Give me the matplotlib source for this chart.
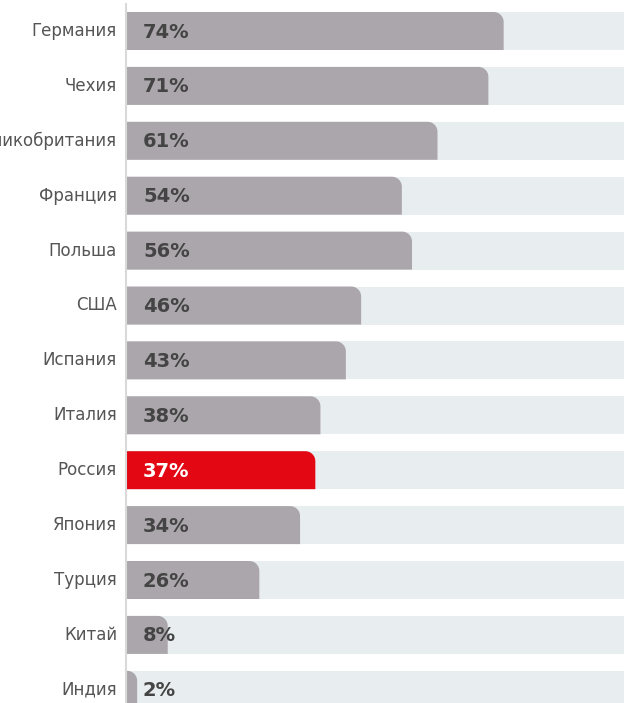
import numpy as np
import matplotlib.pyplot as plt
from matplotlib.path import Path
from matplotlib.patches import PathPatch

# === Data ===
countries = ["Германия", "Чехия", "Великобритания", "Франция", "Польша", "США",
             "Испания", "Италия", "Россия", "Япония", "Турция", "Китай", "Индия"]
values = [74, 71, 61, 54, 56, 46, 43, 38, 37, 34, 26, 8, 2]
highlight = "Россия"

# === Style ===
gray_bar = "#aba6ab"
red_bar = "#e30613"
track = "#e8edf0"
label_col = "#555555"
value_col = "#444444"

W, H = 624, 703
x0_px = 127          # left edge of bars
px_per_pct = 5.09
row_px = 54.9
first_center = 31
bar_h = 38 / row_px


def rounded_bar(ax, y, w, h, rx, ry, color):
    # bar with only the top-right corner rounded (y axis inverted -> top is y - h/2)
    rx = min(rx, w)
    top, bot = y - h / 2, y + h / 2
    t = np.linspace(0, np.pi / 2, 12)
    arc_x = (w - rx) + rx * np.sin(t)
    arc_y = (top + ry) - ry * np.cos(t)
    xs = [0, 0] + list(arc_x) + [w, 0]
    ys = [bot, top] + list(arc_y) + [bot, bot]
    verts = list(zip(xs, ys))
    codes = [Path.MOVETO] + [Path.LINETO] * (len(verts) - 2) + [Path.CLOSEPOLY]
    ax.add_patch(PathPatch(Path(verts, codes), facecolor=color, edgecolor="none", zorder=2))


fig = plt.figure(figsize=(W / 100, H / 100), dpi=100)
ax = fig.add_axes([x0_px / W, 0, 1 - x0_px / W, 1])
ax.set_xlim(0, (W - x0_px) / px_per_pct)
ax.set_ylim((H - first_center) / row_px, -first_center / row_px)
ax.axis("off")

rx = 10 / px_per_pct
ry = 10 / row_px
for i, (name, v) in enumerate(zip(countries, values)):
    ax.barh(i, 100, height=bar_h, color=track, zorder=1)
    col = red_bar if name == highlight else gray_bar
    rounded_bar(ax, i, v, bar_h, rx, ry, col)
    txt_col = "white" if name == highlight else value_col
    ax.text(16 / px_per_pct, i + 0.02, f"{v}%", ha="left", va="center", fontsize=14,
            fontweight="bold", color=txt_col, zorder=3)
    ax.text(-10 / px_per_pct, i, name, ha="right", va="center", fontsize=12,
            color=label_col, clip_on=False)

# thin axis line on the left
ax.plot([-1 / px_per_pct] * 2, [-27 / row_px, 14], color="#d9d9d9", lw=1.5,
        clip_on=False, zorder=4)

plt.savefig("out.png", dpi=100)
